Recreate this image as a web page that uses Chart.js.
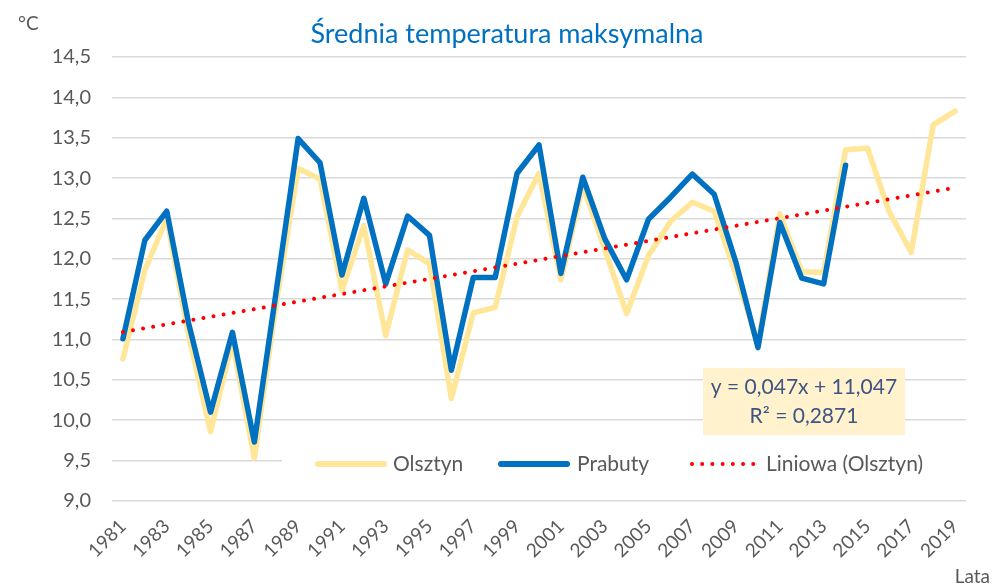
<!DOCTYPE html>
<html lang="pl">
<head>
    <meta charset="UTF-8">
    <title>Średnia temperatura maksymalna</title>
    <script src="https://cdn.jsdelivr.net/npm/chart.js"></script>
    <style>
        body { margin: 0; background: #fff; }
    </style>
</head>
<body>
    <canvas id="tempChart" width="992" height="587"></canvas>

    <script>
        // Lata (kategorie osi X)
        var lata = ['1981', '1982', '1983', '1984', '1985', '1986', '1987', '1988', '1989', '1990',
                    '1991', '1992', '1993', '1994', '1995', '1996', '1997', '1998', '1999', '2000',
                    '2001', '2002', '2003', '2004', '2005', '2006', '2007', '2008', '2009', '2010',
                    '2011', '2012', '2013', '2014', '2015', '2016', '2017', '2018', '2019'];

        // Olsztyn - srednia temperatura maksymalna
        var olsztyn = [10.76, 11.86, 12.50, 11.05, 9.86, 10.97, 9.53, 11.45, 13.12, 12.99,
                       11.61, 12.41, 11.05, 12.11, 11.94, 10.27, 11.33, 11.40, 12.52, 13.06,
                       11.74, 12.91, 12.12, 11.32, 12.04, 12.46, 12.70, 12.59, 11.80, 10.95,
                       12.56, 11.84, 11.83, 13.35, 13.37, 12.58, 12.08, 13.66, 13.83];

        // Prabuty - dane do 2014
        var prabuty = [11.01, 12.23, 12.59, 11.20, 10.10, 11.09, 9.73, 11.60, 13.49, 13.19,
                       11.80, 12.75, 11.69, 12.53, 12.29, 10.62, 11.77, 11.77, 13.06, 13.41,
                       11.82, 13.01, 12.25, 11.74, 12.49, 12.76, 13.05, 12.80, 11.95, 10.90,
                       12.45, 11.76, 11.69, 13.16];

        // Linia trendu (Olsztyn): wartosci na poczatku i na koncu okresu
        var trendKonce = [11.094, 12.88];

        // Etykiety
        var tytul = 'Średnia temperatura maksymalna';
        var nazwySerii = ['Olsztyn', 'Prabuty', 'Liniowa (Olsztyn)'];
        var rownanie = ['y = 0,047x + 11,047', 'R² = 0,2871'];

        // Skala Y
        var yMin = 9.0, yMax = 14.5, yKrok = 0.5;

        var trend = lata.map(function (l, i) {
            if (i === 0) return trendKonce[0];
            if (i === lata.length - 1) return trendKonce[1];
            return null;
        });

        var szary = '#595959';
        var czcionka = 'Lato, "Open Sans", sans-serif';

        // Tytul, legenda, ramka z rownaniem, jednostki
        var dodatki = {
            id: 'dodatki',
            afterDatasetsDraw: function (chart) {
                var ctx = chart.ctx;
                ctx.save();

                // tlo legendy
                ctx.fillStyle = '#ffffff';
                ctx.fillRect(282, 446, 700, 36);

                var yL = 464;
                ctx.lineCap = 'round';
                // Olsztyn
                ctx.strokeStyle = '#FFE699';
                ctx.lineWidth = 6;
                ctx.beginPath(); ctx.moveTo(318, yL); ctx.lineTo(384, yL); ctx.stroke();
                // Prabuty
                ctx.strokeStyle = '#0070C0';
                ctx.beginPath(); ctx.moveTo(501, yL); ctx.lineTo(567, yL); ctx.stroke();
                // trend
                ctx.strokeStyle = '#FF0000';
                ctx.lineWidth = 4;
                ctx.setLineDash([0.01, 10.2]);
                ctx.beginPath(); ctx.moveTo(692, yL); ctx.lineTo(756, yL); ctx.stroke();
                ctx.setLineDash([]);

                ctx.fillStyle = szary;
                ctx.font = '21px ' + czcionka;
                ctx.textBaseline = 'middle';
                ctx.textAlign = 'left';
                ctx.fillText(nazwySerii[0], 393, yL);
                ctx.fillText(nazwySerii[1], 577, yL);
                ctx.fillText(nazwySerii[2], 766, yL);

                // ramka z rownaniem trendu
                ctx.fillStyle = '#FFF2CC';
                ctx.fillRect(703, 368, 202, 67);
                ctx.fillStyle = '#3E5485';
                ctx.textAlign = 'center';
                ctx.font = '21px ' + czcionka;
                ctx.fillText(rownanie[0], 804, 387);
                ctx.fillText(rownanie[1], 804, 416);

                ctx.restore();
            },
            afterDraw: function (chart) {
                var ctx = chart.ctx;
                ctx.save();
                // tytul
                ctx.fillStyle = '#0070C0';
                ctx.font = '27px ' + czcionka;
                ctx.textAlign = 'center';
                ctx.textBaseline = 'middle';
                ctx.fillText(tytul, 507, 34);

                ctx.fillStyle = szary;
                ctx.font = '19px ' + czcionka;
                ctx.textAlign = 'left';
                ctx.fillText('°C', 18, 24);
                ctx.textAlign = 'right';
                ctx.fillText('Lata', 990, 577);
                ctx.restore();
            }
        };

        var tempConfig = {
            type: 'line',
            data: {
                labels: lata,
                datasets: [{
                    label: nazwySerii[0],
                    data: olsztyn,
                    borderColor: '#FFE699',
                    borderWidth: 5.5,
                    pointRadius: 0,
                    tension: 0,
                    borderJoinStyle: 'round',
                    borderCapStyle: 'round',
                    order: 3
                }, {
                    label: nazwySerii[1],
                    data: prabuty,
                    borderColor: '#0070C0',
                    borderWidth: 5.5,
                    pointRadius: 0,
                    tension: 0,
                    borderJoinStyle: 'round',
                    borderCapStyle: 'round',
                    order: 2
                }, {
                    label: nazwySerii[2],
                    data: trend,
                    spanGaps: true,
                    borderColor: '#FF0000',
                    borderWidth: 4,
                    borderDash: [0.01, 10.2],
                    borderCapStyle: 'round',
                    pointRadius: 0,
                    order: 1
                }]
            },
            options: {
                responsive: false,
                animation: false,
                layout: {
                    padding: { left: 0, right: 26, top: 57, bottom: 0 }
                },
                plugins: {
                    legend: { display: false },
                    tooltip: { enabled: false },
                    title: { display: false }
                },
                scales: {
                    x: {
                        offset: true,
                        grid: { display: false },
                        border: { display: false },
                        ticks: {
                            autoSkip: false,
                            maxRotation: 45,
                            minRotation: 45,
                            padding: 6,
                            color: szary,
                            font: { family: czcionka, size: 19 },
                            callback: function (val, i) {
                                return i % 2 === 0 ? this.getLabelForValue(val) : '';
                            }
                        },
                        afterFit: function (scale) { scale.height = 86; }
                    },
                    y: {
                        min: yMin,
                        max: yMax,
                        grid: { color: '#D9D9D9', lineWidth: 1.6, drawTicks: false },
                        border: { display: false },
                        ticks: {
                            stepSize: yKrok,
                            padding: 21,
                            color: szary,
                            font: { family: czcionka, size: 20 },
                            callback: function (v) { return v.toFixed(1).replace('.', ','); }
                        },
                        afterFit: function (scale) { scale.width = 112; }
                    }
                }
            },
            plugins: [dodatki]
        };

        var tempChart = new Chart(document.getElementById('tempChart'), tempConfig);
    </script>
</body>
</html>
